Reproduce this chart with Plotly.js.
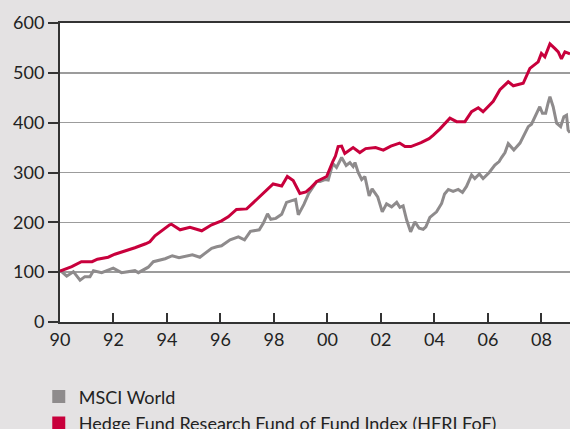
<!DOCTYPE html>
<html>
<head>
<meta charset="utf-8">
<script src="https://cdn.plot.ly/plotly-3.0.1.min.js"></script>
<style>
  html, body { margin: 0; padding: 0; background: #e4e2e3; }
  #chart { width: 570px; height: 429px; }
</style>
</head>
<body>
<div id="chart"></div>
<script>
// Series (x in decimal years)
const hfriYears = [1990.0, 1990.2, 1990.44, 1990.8, 1991.2, 1991.4, 1991.8, 1992.05, 1992.55, 1992.8,
  1993.2, 1993.36, 1993.55, 1993.74, 1994.1, 1994.17, 1994.49, 1994.86, 1995.3, 1995.67,
  1996.04, 1996.29, 1996.6, 1996.98, 1997.35, 1997.73, 1997.97, 1998.29, 1998.5, 1998.72,
  1998.97, 1999.2, 1999.35, 1999.6, 1999.97, 2000.2, 2000.3, 2000.4, 2000.53, 2000.65,
  2000.96, 2001.21, 2001.43, 2001.8, 2002.09, 2002.37, 2002.7, 2002.9, 2003.12, 2003.5,
  2003.8, 2003.96, 2004.2, 2004.58, 2004.83, 2005.14, 2005.39, 2005.64, 2005.82, 2006.2,
  2006.45, 2006.76, 2006.95, 2007.32, 2007.57, 2007.88, 2008.0, 2008.13, 2008.32, 2008.5,
  2008.63, 2008.75, 2008.88, 2009.07];
const hfriValues = [102, 106, 111, 121, 121, 126, 130, 136, 144, 149,
  157, 161, 173, 181, 195, 196, 185, 190, 183, 195,
  203, 211, 226, 227, 246, 264, 277, 273, 292, 284,
  258, 261, 268, 282, 292, 322, 333, 352, 353, 338,
  350, 340, 348, 350, 345, 353, 359, 352, 352, 360,
  368, 375, 387, 409, 402, 402, 422, 430, 422, 443,
  466, 482, 474, 479, 509, 522, 539, 532, 558, 549,
  542, 528, 542, 538];

const msciYears = [1990.0, 1990.12, 1990.25, 1990.5, 1990.75, 1990.93, 1991.12, 1991.25, 1991.56, 1991.99,
  1992.3, 1992.8, 1992.93, 1993.3, 1993.49, 1993.93, 1994.2, 1994.45, 1994.95, 1995.23,
  1995.54, 1995.67, 1995.86, 1996.04, 1996.36, 1996.67, 1996.9, 1997.12, 1997.45, 1997.6,
  1997.76, 1997.88, 1998.07, 1998.29, 1998.47, 1998.72, 1998.81, 1998.91, 1999.12, 1999.3,
  1999.6, 1999.72, 1999.91, 2000.03, 2000.2, 2000.34, 2000.53, 2000.7, 2000.84, 2000.96,
  2001.03, 2001.15, 2001.28, 2001.4, 2001.56, 2001.67, 2001.88, 2002.05, 2002.21, 2002.4,
  2002.59, 2002.71, 2002.83, 2002.96, 2003.11, 2003.27, 2003.43, 2003.58, 2003.68, 2003.83,
  2004.08, 2004.27, 2004.38, 2004.52, 2004.7, 2004.89, 2005.05, 2005.2, 2005.39, 2005.51,
  2005.68, 2005.82, 2006.05, 2006.26, 2006.42, 2006.51, 2006.64, 2006.76, 2006.85, 2006.97,
  2007.2, 2007.38, 2007.51, 2007.63, 2007.76, 2007.85, 2007.94, 2008.04, 2008.16, 2008.25,
  2008.32, 2008.44, 2008.57, 2008.72, 2008.84, 2008.94, 2009.0, 2009.07];
const msciValues = [104, 98, 92, 101, 84, 91, 91, 103, 99, 108,
  99, 103, 99, 110, 121, 127, 133, 129, 135, 130,
  144, 148, 151, 153, 165, 171, 165, 182, 185, 198,
  217, 206, 208, 216, 240, 244, 246, 215, 236, 258,
  282, 282, 286, 285, 318, 310, 330, 314, 320, 312,
  320, 300, 286, 292, 253, 267, 251, 221, 237, 231,
  240, 230, 233, 205, 181, 201, 188, 186, 191, 210,
  221, 238, 257, 266, 262, 266, 260, 272, 295, 288,
  297, 288, 300, 315, 322, 330, 340, 358, 352, 345,
  359, 379, 392, 397, 412, 425, 432, 419, 419, 439,
  452, 432, 399, 392, 412, 415, 385, 380];

const seriesNames = ['MSCI World', 'Hedge Fund Research Fund of Fund Index (HFRI FoF)'];
const seriesColors = ['#8e8b8c', '#c8003c'];

const tickYears = [1990, 1992, 1994, 1996, 1998, 2000, 2002, 2004, 2006, 2008];
const tickLabels = ['90', '92', '94', '96', '98', '00', '02', '04', '06', '08'];
const yTicks = [0, 100, 200, 300, 400, 500, 600];

const fontFamily = 'Lato, "Open Sans", sans-serif';

const msciTrace = {
    x: msciYears,
    y: msciValues,
    type: 'scatter',
    mode: 'lines',
    line: { color: seriesColors[0], width: 3 },
    showlegend: false,
    hoverinfo: 'skip'
};

const hfriTrace = {
    x: hfriYears,
    y: hfriValues,
    type: 'scatter',
    mode: 'lines',
    line: { color: seriesColors[1], width: 3 },
    showlegend: false,
    hoverinfo: 'skip'
};

// Square swatches for the legend
const legendTraces = seriesNames.map((name, i) => ({
    x: [null],
    y: [null],
    type: 'scatter',
    mode: 'markers',
    name: name,
    marker: { symbol: 'square', size: 13, color: seriesColors[i] },
    showlegend: true
}));

const layout = {
    width: 570,
    height: 429,
    margin: { l: 60, r: 0, t: 23, b: 107, autoexpand: false },
    paper_bgcolor: '#e4e2e3',
    plot_bgcolor: '#ffffff',
    font: { family: fontFamily, color: '#222222', size: 18 },
    xaxis: {
        range: [1990, 2009.07],
        tickvals: tickYears,
        ticktext: tickLabels,
        ticks: 'inside',
        ticklen: 9,
        tickwidth: 2,
        tickcolor: '#333333',
        showgrid: false,
        showline: true,
        linecolor: '#333333',
        linewidth: 2,
        mirror: true,
        zeroline: false,
        tickfont: { size: 18, color: '#222222' }
    },
    yaxis: {
        range: [0, 600],
        tickvals: yTicks,
        ticks: 'outside',
        ticklen: 10,
        tickwidth: 2,
        tickcolor: '#333333',
        showgrid: true,
        gridcolor: '#9c9c9c',
        gridwidth: 1.5,
        showline: true,
        linecolor: '#333333',
        linewidth: 2,
        zeroline: false,
        tickfont: { size: 18, color: '#222222' }
    },
    legend: {
        xref: 'container',
        yref: 'container',
        x: 0.068,
        xanchor: 'left',
        y: 0.118,
        yanchor: 'top',
        bgcolor: 'rgba(0,0,0,0)',
        font: { size: 18, color: '#222222' },
        tracegroupgap: 0,
        itemwidth: 30
    },
    showlegend: true
};

Plotly.newPlot('chart', [msciTrace, hfriTrace, ...legendTraces], layout, { staticPlot: true, displayModeBar: false });
</script>
</body>
</html>
